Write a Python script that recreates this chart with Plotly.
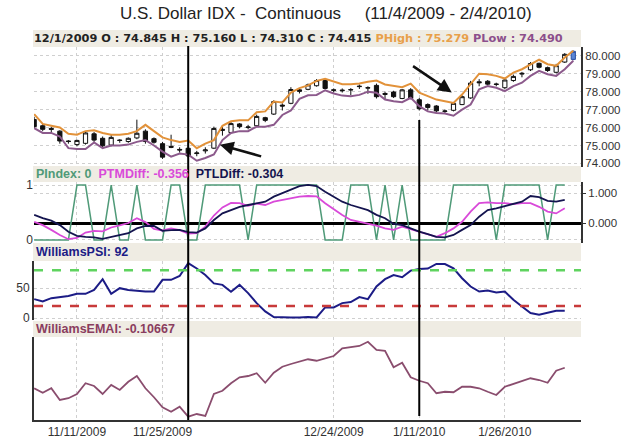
import plotly.graph_objects as go

# ---------------- data ----------------
dates = ["11/4/2009", "11/5/2009", "11/6/2009", "11/9/2009", "11/10/2009", "11/11/2009", "11/12/2009",
         "11/13/2009", "11/16/2009", "11/17/2009", "11/18/2009", "11/19/2009", "11/20/2009", "11/23/2009",
         "11/24/2009", "11/25/2009", "11/27/2009", "11/30/2009", "12/1/2009", "12/2/2009", "12/3/2009",
         "12/4/2009", "12/7/2009", "12/8/2009", "12/9/2009", "12/10/2009", "12/11/2009", "12/14/2009",
         "12/15/2009", "12/16/2009", "12/17/2009", "12/18/2009", "12/21/2009", "12/22/2009", "12/23/2009",
         "12/24/2009", "12/28/2009", "12/29/2009", "12/30/2009", "12/31/2009", "1/4/2010", "1/5/2010",
         "1/6/2010", "1/7/2010", "1/8/2010", "1/11/2010", "1/12/2010", "1/13/2010", "1/14/2010", "1/15/2010",
         "1/19/2010", "1/20/2010", "1/21/2010", "1/22/2010", "1/25/2010", "1/26/2010", "1/27/2010",
         "1/28/2010", "1/29/2010", "2/1/2010", "2/2/2010", "2/3/2010", "2/4/2010", "2/5/2010"]

open_ = [76.45, 76.10, 75.95, 75.80, 75.25, 75.05, 75.12, 75.65, 75.40, 75.02, 75.30, 75.22, 75.42, 75.80,
         75.38, 75.10, 74.95, 74.78, 74.845, 74.55, 74.70, 74.85, 75.90, 75.72, 76.20, 76.00, 76.10, 76.55,
         76.75, 77.25, 77.35, 78.10, 78.13, 78.33, 78.62, 78.10, 78.05, 78.12, 78.28, 78.20, 78.35, 77.90,
         77.98, 77.62, 78.10, 77.55, 77.28, 77.20, 76.90, 76.96, 77.28, 77.65, 78.55, 78.58, 78.40, 78.22,
         78.62, 78.98, 79.22, 79.58, 79.34, 79.08, 79.65, 79.80]
high = [76.60, 76.20, 76.05, 75.85, 75.30, 75.32, 75.80, 75.75, 75.50, 75.60, 75.35, 75.45, 76.44, 75.90,
        75.45, 75.20, 75.60, 74.90, 75.160, 74.70, 74.90, 76.05, 76.10, 76.30, 76.25, 76.15, 76.72, 76.60,
        77.52, 77.35, 78.25, 78.18, 78.45, 78.70, 78.70, 78.18, 78.18, 78.20, 78.40, 78.30, 78.45, 78.00,
        78.05, 78.15, 78.20, 77.65, 77.35, 77.25, 77.00, 77.40, 77.80, 78.60, 78.70, 78.65, 78.50, 78.72,
        78.95, 79.10, 79.65, 79.62, 79.40, 79.55, 80.15, 80.30]
low = [75.95, 75.80, 75.70, 75.10, 75.10, 74.95, 75.05, 75.20, 74.90, 74.95, 75.15, 75.15, 75.35, 75.10,
       75.10, 74.25, 74.85, 74.60, 74.310, 74.40, 74.55, 74.80, 75.55, 75.68, 75.95, 75.90, 76.05, 76.30,
       76.70, 76.95, 77.30, 77.90, 78.08, 78.28, 78.12, 77.95, 77.95, 77.80, 78.15, 77.88, 77.62, 77.55,
       77.65, 77.58, 77.58, 76.95, 76.95, 76.85, 76.80, 76.90, 77.25, 77.60, 78.30, 78.35, 78.30, 78.15,
       78.55, 78.80, 79.15, 79.30, 79.10, 79.02, 79.60, 79.75]
close = [76.05, 75.90, 75.90, 75.25, 75.22, 75.28, 75.70, 75.30, 74.98, 75.45, 75.28, 75.40, 75.68, 75.22,
         75.18, 74.35, 74.90, 74.75, 74.415, 74.58, 74.75, 75.95, 75.85, 76.22, 76.05, 76.03, 76.62, 76.40,
         77.45, 77.20, 78.12, 78.02, 78.38, 78.62, 78.18, 78.08, 78.08, 78.10, 78.30, 78.22, 77.72, 77.85,
         77.72, 78.10, 77.62, 77.05, 77.12, 76.93, 76.92, 77.35, 77.72, 78.48, 78.50, 78.42, 78.42, 78.65,
         78.85, 79.02, 79.57, 79.36, 79.18, 79.45, 80.08, 80.25]
p_high = [76.75, 76.20, 76.10, 76.00, 75.65, 75.60, 75.80, 75.85, 75.70, 75.60, 75.60, 75.65, 75.80, 76.15,
          75.80, 75.45, 75.30, 75.20, 75.279, 74.85, 75.10, 75.30, 76.10, 76.35, 76.40, 76.40, 76.85, 76.90,
          77.45, 77.40, 77.95, 78.20, 78.35, 78.60, 78.72, 78.55, 78.42, 78.42, 78.45, 78.55, 78.62, 78.40,
          78.32, 78.25, 78.45, 77.95, 77.75, 77.56, 77.47, 77.37, 77.84, 78.40, 79.00, 78.97, 78.88, 78.73,
          79.06, 79.25, 79.53, 79.78, 79.53, 79.44, 79.90, 80.28]
p_low = [75.97, 75.70, 75.70, 75.50, 74.85, 74.80, 74.80, 75.17, 74.85, 75.00, 75.00, 75.05, 75.20, 75.30,
         75.00, 74.66, 74.38, 74.55, 74.49, 74.15, 74.30, 74.50, 75.30, 75.70, 75.80, 75.80, 76.05, 76.05,
         76.15, 76.70, 76.95, 77.60, 77.80, 77.82, 78.08, 77.90, 77.78, 77.75, 77.82, 78.00, 77.94, 77.56,
         77.47, 77.41, 77.66, 77.19, 76.90, 76.81, 76.78, 76.66, 77.00, 77.28, 78.13, 78.31, 78.22, 78.03,
         78.31, 78.50, 78.88, 79.16, 78.97, 78.88, 79.25, 79.72]

p_index = [0, 0, 0, 0, 0, 1, 1, 0, 0, 1, 0, 0, 1, 0, 0, 0, 1, 1, 0, 0, 1, 1, 1, 1, 1, 0, 1, 1, 1, 1, 1, 1,
           1, 1, 0, 0, 0, 1, 1, 1, 0, 1, 0, 1, 0, 0, 0, 0, 0, 1, 1, 1, 1, 1, 0, 1, 1, 1, 1, 1, 0, 1, 1]
ptm_diff = [0.04, -0.07, -0.23, -0.40, -0.54, -0.50, -0.32, -0.26, -0.28, -0.15, -0.08, 0.00, 0.16, 0.03,
            -0.20, -0.25, -0.18, -0.24, -0.356, -0.34, -0.12, 0.25, 0.52, 0.67, 0.66, 0.57, 0.65, 0.60, 0.71,
            0.77, 0.82, 0.88, 0.90, 0.89, 0.66, 0.46, 0.27, 0.10, 0.04, -0.03, -0.09, -0.18, -0.23, -0.12,
            -0.21, -0.29, -0.37, -0.46, -0.34, -0.18, 0.04, 0.38, 0.66, 0.69, 0.66, 0.66, 0.63, 0.66, 0.66,
            0.54, 0.38, 0.32, 0.49]
ptl_diff = [0.27, 0.16, 0.08, -0.07, -0.29, -0.43, -0.46, -0.48, -0.53, -0.46, -0.40, -0.34, -0.18, -0.10,
            -0.10, -0.26, -0.24, -0.23, -0.304, -0.32, -0.18, 0.10, 0.32, 0.43, 0.54, 0.60, 0.66, 0.71, 0.88,
            0.99, 1.12, 1.23, 1.27, 1.23, 1.04, 0.88, 0.71, 0.60, 0.52, 0.43, 0.27, 0.16, -0.03, -0.07, -0.18,
            -0.29, -0.37, -0.46, -0.48, -0.40, -0.23, -0.07, 0.21, 0.43, 0.49, 0.57, 0.63, 0.71, 0.90, 0.86,
            0.74, 0.71, 0.77]
williams_psi = [31.7, 27.8, 33.3, 35.0, 37.0, 40.5, 40.5, 47.0, 65.0, 40.5, 50.0, 47.0, 45.5, 44.4, 44.4,
                63.9, 63.9, 70.5, 92.0, 83.0, 72.0, 58.0, 55.5, 44.0, 55.5, 41.7, 25.0, 11.0, 1.7, 1.0, 1.0,
                1.0, 1.7, 1.0, 17.8, 17.8, 25.0, 26.7, 35.0, 31.7, 52.8, 65.0, 72.0, 68.3, 79.4, 82.2, 82.8,
                90.5, 90.5, 83.3, 66.7, 52.8, 44.4, 46.0, 42.8, 44.4, 30.5, 19.4, 8.3, 5.6, 9.4, 12.2, 12.2]
williams_emai = [0.007, -0.011, 0.007, -0.040, -0.033, -0.016, 0.027, 0.016, -0.016, 0.020, 0.000, 0.033,
                 0.056, 0.007, -0.029, -0.069, -0.087, -0.067, -0.10667, -0.096, -0.104, -0.016, -0.003,
                 0.027, 0.051, 0.056, 0.067, 0.029, 0.069, 0.093, 0.104, 0.113, 0.123, 0.117, 0.127, 0.136,
                 0.167, 0.173, 0.176, 0.193, 0.160, 0.157, 0.091, 0.109, 0.051, 0.037, 0.027, -0.013, -0.007,
                 -0.009, 0.013, 0.013, 0.007, -0.007, -0.020, 0.013, 0.024, 0.036, 0.047, 0.040, 0.029, 0.077,
                 0.089]

psi_levels = [80, 20]
tick_dates = ["11/11/2009", "11/25/2009", "12/24/2009", "1/11/2010", "1/26/2010"]
crosshair_dates = ["12/1/2009", "1/11/2010"]
price_ticks = [74, 75, 76, 77, 78, 79, 80]

n_ind = len(p_index)

# ---------------- layout helpers ----------------
W, H = 627, 443
FONT = "Liberation Sans, Arial, sans-serif"
HFONT = "DejaVu Sans, Verdana, sans-serif"


def py(pix):
    return 1 - pix / H


X0, X1 = 34 / W, 581 / W
BAND = "#efece3"

fig = go.Figure()

# price panel
fig.add_trace(go.Candlestick(
    x=dates[:-1], open=open_[:-1], high=high[:-1], low=low[:-1], close=close[:-1],
    increasing=dict(line=dict(color="#111111", width=1), fillcolor="#ffffff"),
    decreasing=dict(line=dict(color="#111111", width=1), fillcolor="#111111"),
    whiskerwidth=0, xaxis="x", yaxis="y", showlegend=False, hoverinfo="skip"))
fig.add_trace(go.Candlestick(
    x=dates[-1:], open=open_[-1:], high=high[-1:], low=low[-1:], close=close[-1:],
    increasing=dict(line=dict(color="#2a4fa0", width=1), fillcolor="#5b86d6"),
    decreasing=dict(line=dict(color="#2a4fa0", width=1), fillcolor="#5b86d6"),
    whiskerwidth=0, xaxis="x", yaxis="y", showlegend=False, hoverinfo="skip"))
fig.add_trace(go.Scatter(x=dates, y=p_high, mode="lines", line=dict(color="#e2923a", width=2),
                         xaxis="x", yaxis="y", showlegend=False, hoverinfo="skip"))
fig.add_trace(go.Scatter(x=dates, y=p_low, mode="lines", line=dict(color="#8c5a8c", width=2),
                         xaxis="x", yaxis="y", showlegend=False, hoverinfo="skip"))

# PIndex / diff panel
fig.add_trace(go.Scatter(x=dates[:n_ind], y=p_index, mode="lines", line=dict(color="#4f9a78", width=1.5),
                         xaxis="x2", yaxis="y2", showlegend=False, hoverinfo="skip"))
fig.add_trace(go.Scatter(x=dates[:n_ind], y=ptm_diff, mode="lines", line=dict(color="#d94ad9", width=1.8),
                         xaxis="x2", yaxis="y3", showlegend=False, hoverinfo="skip"))
fig.add_trace(go.Scatter(x=dates[:n_ind], y=ptl_diff, mode="lines", line=dict(color="#14144f", width=1.8),
                         xaxis="x2", yaxis="y3", showlegend=False, hoverinfo="skip"))

# Williams PSI panel
fig.add_trace(go.Scatter(x=dates[:n_ind], y=williams_psi, mode="lines", line=dict(color="#1c1c86", width=2),
                         xaxis="x3", yaxis="y4", showlegend=False, hoverinfo="skip"))

# Williams EMAI panel
fig.add_trace(go.Scatter(x=dates[:n_ind], y=williams_emai, mode="lines", line=dict(color="#8a4d6e", width=1.8),
                         xaxis="x4", yaxis="y5", showlegend=False, hoverinfo="skip"))

grid = dict(showgrid=True, gridcolor="#cfcfcf", griddash="dot", gridwidth=1)
xcommon = dict(domain=[X0, X1], type="category", categoryorder="array", categoryarray=dates,
               tickvals=tick_dates, ticks="", zeroline=False, automargin=False, **grid)
tfont = dict(family=FONT, size=11.5, color="#333333")

layout = dict(
    template="none",
    width=W, height=H, margin=dict(l=0, r=0, t=0, b=0, autoexpand=False),
    paper_bgcolor="white", plot_bgcolor="white", showlegend=False,
    font=dict(family=FONT, size=12, color="#333333"),
    xaxis=dict(anchor="y", range=[-0.02, 63.9], showticklabels=False, rangeslider=dict(visible=False),
               **xcommon),
    xaxis2=dict(anchor="y2", matches="x", showticklabels=False, **xcommon),
    xaxis3=dict(anchor="y4", matches="x", showticklabels=False, **xcommon),
    xaxis4=dict(anchor="y5", matches="x", showticklabels=True,
                ticktext=tick_dates, tickfont=dict(family=FONT, size=12, color="#333333"),
                showline=True, linecolor="#333333", linewidth=2, **xcommon),
    yaxis=dict(domain=[py(167), py(47)], anchor="x", side="right", range=[73.80, 80.49],
               tickvals=price_ticks, tickformat=".3f", showline=True, linecolor="#333333", linewidth=2,
               zeroline=False, ticks="", tickfont=tfont, automargin=False, **grid),
    yaxis2=dict(domain=[py(243), py(182)], anchor="x2", side="left", range=[-0.055, 1.055],
                tickvals=[0, 1], zeroline=False, ticks="", showline=False, automargin=False,
                tickfont=dict(family=FONT, size=12, color="#333333"), **grid),
    yaxis3=dict(overlaying="y2", anchor="x2", side="right", range=[-0.667, 1.367],
                tickvals=[0, 1], tickformat=".3f", showline=True, linecolor="#333333", linewidth=2,
                ticks="outside", ticklen=3, tickcolor="#333333", automargin=False,
                zeroline=True, zerolinecolor="#000000", zerolinewidth=2.5,
                tickfont=tfont, **grid),
    yaxis4=dict(domain=[py(320), py(261)], anchor="x3", side="left", range=[-3.3, 95.5],
                tickvals=[0, 50], zeroline=False, ticks="", showline=True, linecolor="#333333",
                linewidth=2, automargin=False, tickfont=dict(family=FONT, size=12, color="#333333"), **grid),
    yaxis5=dict(domain=[py(420), py(337)], anchor="x4", range=[-0.120, 0.212], showticklabels=False,
                showgrid=False, zeroline=False, showline=True, linecolor="#333333", linewidth=2,
                automargin=False),
)
fig.update_layout(**layout)

shapes = []
# header bands
for top, bot in [(30, 47), (166, 182), (243, 261), (321, 337)]:
    shapes.append(dict(type="rect", xref="paper", yref="paper", x0=33 / W, x1=X1, y0=py(bot), y1=py(top),
                       fillcolor=BAND, line=dict(width=0), layer="below"))
# PSI reference levels
for lvl, col in zip(psi_levels, ["#5fd35f", "#c83a3a"]):
    shapes.append(dict(type="line", xref="x3 domain", yref="y4", x0=0, x1=1, y0=lvl, y1=lvl,
                       line=dict(color=col, width=2.5, dash="dash")))
# crosshair lines
for d, (top, bot) in zip(crosshair_dates, [(46, 420), (120, 416)]):
    shapes.append(dict(type="line", xref="x", yref="paper", x0=d, x1=d, y0=py(bot), y1=py(top),
                       line=dict(color="#000000", width=2)))
fig.update_layout(shapes=shapes)

ann = [
    dict(text="U.S. Dollar IDX -\u00a0 Continuous\u00a0\u00a0\u00a0\u00a0\u00a0(11/4/2009 - 2/4/2010)",
         xref="paper", yref="paper", x=326 / W, y=py(14), xanchor="center", yanchor="middle",
         showarrow=False, font=dict(family=FONT, size=17, color="#222222")),
    dict(text="<b>12/1/2009 O : 74.845 H : 75.160 L : 74.310 C : 74.415 "
              "<span style='color:#e8a04a'>PHigh : 75.279</span> "
              "<span style='color:#8c4f8c'>PLow : 74.490</span></b>",
         xref="paper", yref="paper", x=32 / W, y=py(38.5), xanchor="left", yanchor="middle",
         showarrow=False, font=dict(family=HFONT, size=11.3, color="#222222")),
    dict(text="<b><span style='color:#4f9a78'>PIndex: 0</span>\u00a0 "
              "<span style='color:#d94ad9'>PTMDiff: -0.356</span>\u00a0 "
              "<span style='color:#14144f'>PTLDiff: -0.304</span></b>",
         xref="paper", yref="paper", x=34 / W, y=py(174), xanchor="left", yanchor="middle",
         showarrow=False, font=dict(family=FONT, size=12.5, color="#222222")),
    dict(text="<b>WilliamsPSI: 92</b>", xref="paper", yref="paper", x=34 / W, y=py(252),
         xanchor="left", yanchor="middle", showarrow=False,
         font=dict(family=FONT, size=12.5, color="#1c1c86")),
    dict(text="<b>WilliamsEMAI: -0.10667</b>", xref="paper", yref="paper", x=34 / W, y=py(329),
         xanchor="left", yanchor="middle", showarrow=False,
         font=dict(family=FONT, size=12.5, color="#8a3d5e")),
]
# arrows (tip, tail) in index / price coordinates
arrows = [((21.7, 75.04), (26.7, 74.37)), ((48.8, 77.96), (44.1, 79.48))]
for (tx, ty), (sx, sy) in arrows:
    ann.append(dict(x=tx, y=ty, ax=sx, ay=sy, xref="x", yref="y", axref="x", ayref="y", text="",
                    showarrow=True, arrowhead=2, arrowsize=1.1, arrowwidth=2.5, arrowcolor="#111111"))
fig.update_layout(annotations=ann)

fig.write_html("out.html", config={"displayModeBar": False},
               post_script="document.body.style.margin='0';")
